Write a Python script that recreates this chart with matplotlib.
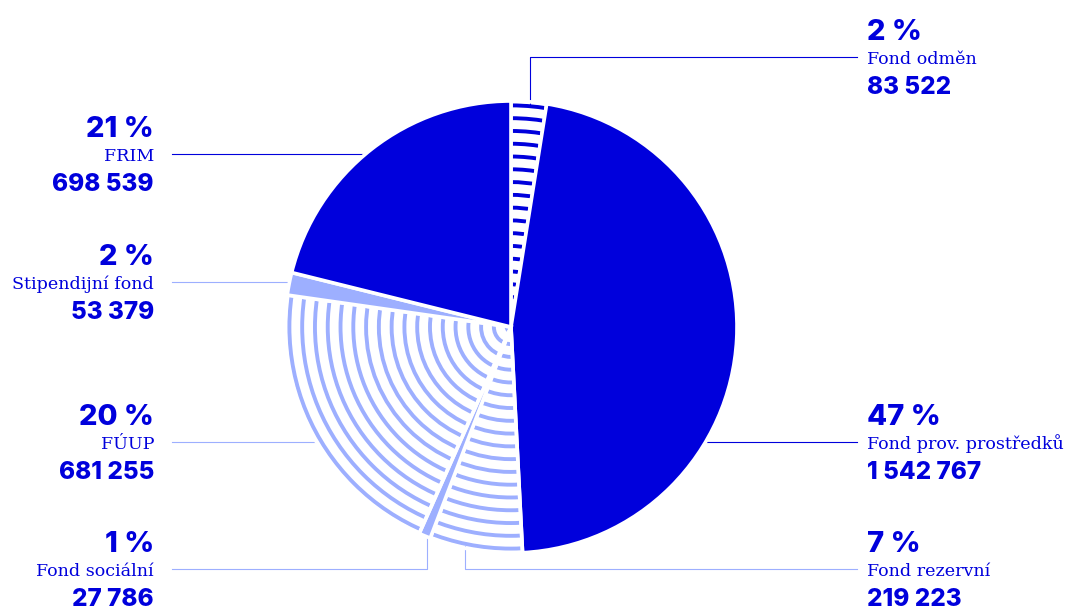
import numpy as np
import matplotlib
matplotlib.use("Agg")
import matplotlib.pyplot as plt
from matplotlib.patches import Circle

# Fund balances (CZK thousands), clockwise from 12 o'clock
fund_names = ["Fond odměn", "Fond prov. prostředků", "Fond rezervní",
              "Fond sociální", "FÚUP", "Stipendijní fond", "FRIM"]
fund_amounts = [83522, 1542767, 219223, 27786, 681255, 53379, 698539]
percent_labels = ["2 %", "47 %", "7 %", "1 %", "20 %", "2 %", "21 %"]
amount_labels = ["83 522", "1 542 767", "219 223", "27 786",
                 "681 255", "53 379", "698 539"]

DARK = "#0000DC"
LIGHT = "#9DAFFF"
slice_colors = [DARK, DARK, LIGHT, LIGHT, LIGHT, LIGHT, DARK]
slice_ringed = [True, False, True, False, True, False, False]

W, H = 1069, 610
fig = plt.figure(figsize=(W / 100, H / 100), dpi=100)
ax = fig.add_axes([0, 0, 1, 1])

CX, CY, R = 511, H - 327, 226

wedges, _ = ax.pie(fund_amounts, center=(CX, CY), radius=R, startangle=90,
                   counterclock=False, colors=slice_colors,
                   wedgeprops=dict(edgecolor="white", linewidth=2.6))
ax.set_xlim(0, W)
ax.set_ylim(0, H)
ax.set_aspect("equal")
ax.axis("off")

# Concentric-ring fill for the patterned slices
ring_radii = 221.6 - 12.78 * np.arange(18)
for wedge, col, ringed in zip(wedges, slice_colors, slice_ringed):
    wedge.set_zorder(3)
    if not ringed:
        continue
    wedge.set_facecolor("none")
    for r in ring_radii:
        ring = Circle((CX, CY), r, fill=False, edgecolor=col,
                      linewidth=2.8, zorder=2)
        ax.add_patch(ring)
        ring.set_clip_path(wedge)

# Label layout: side, baseline of the percent line (from top), leader style
label_side = ["R", "R", "R", "L", "L", "L", "L"]
label_top = [40, 425, 552, 552, 425, 265, 137]
leader_kind = ["v", "h", "v", "v", "h", "h", "h"]
leader_frac = [0.53, 0.5, 0.62, 0.35, 0.5, 0.5, 0.5]

SANS = ["Inter", "DejaVu Sans"]
SERIF = ["DejaVu Serif"]
X_RIGHT_TEXT, X_LEFT_TEXT = 867, 154
X_RIGHT_LINE, X_LEFT_LINE = 857, 172

total = float(sum(fund_amounts))
start = 0.0
for i, amt in enumerate(fund_amounts):
    frac = amt / total
    col = slice_colors[i]
    side = label_side[i]
    top = label_top[i]
    ha = "left" if side == "R" else "right"
    tx = X_RIGHT_TEXT if side == "R" else X_LEFT_TEXT

    ax.text(tx, H - top, percent_labels[i], ha=ha, va="baseline",
            family=SANS, fontweight=800, fontsize=21, color=DARK)
    ax.text(tx, H - (top + 24), fund_names[i], ha=ha, va="baseline",
            family=SERIF, fontsize=12.6, color=DARK)
    ax.text(tx, H - (top + 54), amount_labels[i], ha=ha, va="baseline",
            family=SANS, fontweight=800, fontsize=17.5, color=DARK)

    ly = H - (top + 17)
    lx_end = X_RIGHT_LINE if side == "R" else X_LEFT_LINE
    if leader_kind[i] == "h":
        dy = ly - CY
        dx = np.sqrt(max(R * R - dy * dy, 0.0))
        ax_x = CX + dx if side == "R" else CX - dx
        ax.plot([ax_x, lx_end], [ly, ly], color=col, lw=0.8, zorder=1)
    else:
        ang = np.deg2rad(90 - 360 * (start + leader_frac[i] * frac))
        px = CX + (R - 2) * np.cos(ang)
        py = CY + (R - 2) * np.sin(ang)
        ax.plot([px, px, lx_end], [py, ly, ly], color=col, lw=0.8, zorder=1)
    start += frac

fig.savefig("out.png", dpi=100, facecolor="white")
